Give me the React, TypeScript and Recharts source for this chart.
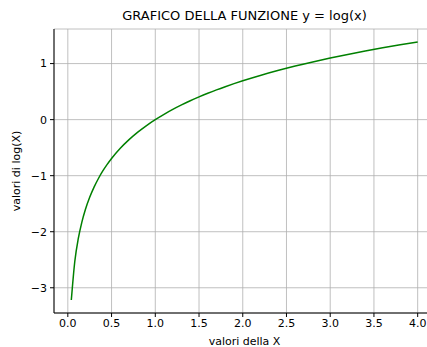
import React from "react";
import { LineChart, Line, XAxis, YAxis, CartesianGrid } from "recharts";

const xValues = [0.04, 0.08, 0.12, 0.16, 0.2, 0.25, 0.3, 0.35, 0.4, 0.45, 0.5, 0.6, 0.7, 0.8, 0.9, 1.0, 1.1, 1.2, 1.3, 1.4, 1.5, 1.6, 1.7, 1.8, 1.9, 2.0, 2.2, 2.4, 2.6, 2.8, 3.0, 3.2, 3.4, 3.6, 3.8, 4.0];
const yValues = [-3.219, -2.526, -2.120, -1.833, -1.609, -1.386, -1.204, -1.050, -0.916, -0.799, -0.693, -0.511, -0.357, -0.223, -0.105, 0, 0.095, 0.182, 0.262, 0.336, 0.405, 0.470, 0.531, 0.588, 0.642, 0.693, 0.788, 0.875, 0.956, 1.030, 1.099, 1.163, 1.224, 1.281, 1.335, 1.386];
const xTicks = [0, 0.5, 1.0, 1.5, 2.0, 2.5, 3.0, 3.5, 4.0];
const yTicks = [-3, -2, -1, 0, 1];
const title = "GRAFICO DELLA FUNZIONE y = log(x)";
const xLabel = "valori della X";
const yLabel = "valori di log(X)";

const data = xValues.map((x, i) => ({ x, y: yValues[i] }));
const font = "DejaVu Sans, sans-serif";

export default function App() {
  return (
    <div style={{ position: "absolute", left: 0, top: 0, width: 427, height: 347, overflow: "hidden", background: "#fff", fontFamily: font }}>
      <div style={{ position: "absolute", left: 54, width: 381, top: 8, textAlign: "center", fontSize: 13, lineHeight: "16px", color: "#000" }}>
        {title}
      </div>
      <LineChart width={440} height={347} data={data} margin={{ top: 29, right: 5, left: 0, bottom: 0 }}>
        <CartesianGrid stroke="#b0b0b0" strokeWidth={0.8} />
        <XAxis
          dataKey="x"
          type="number"
          domain={[-0.158, 4.198]}
          allowDataOverflow
          ticks={xTicks}
          tickFormatter={(v: number) => v.toFixed(1)}
          height={34}
          tickSize={4}
          tickMargin={2}
          stroke="#000"
          tick={{ fill: "#000", fontSize: 11, fontFamily: font }}
          label={{ value: xLabel, position: "insideBottom", offset: 2, fill: "#000", fontSize: 11, fontFamily: font }}
        />
        <XAxis xAxisId="top" orientation="top" dataKey="x" type="number" domain={[-0.158, 4.198]} height={0} tick={false} tickLine={false} stroke="#000" />
        <YAxis
          dataKey="y"
          type="number"
          domain={[-3.45, 1.617]}
          allowDataOverflow
          ticks={yTicks}
          tickFormatter={(v: number) => (v < 0 ? "\u2212" + Math.abs(v) : String(v))}
          width={54}
          tickSize={4}
          tickMargin={3}
          stroke="#000"
          tick={{ fill: "#000", fontSize: 11, fontFamily: font }}
          label={{ value: yLabel, angle: -90, position: "insideLeft", offset: 16, fill: "#000", fontSize: 11, fontFamily: font, style: { textAnchor: "middle" } }}
        />
        <Line type="monotone" dataKey="y" stroke="#008000" strokeWidth={1.5} dot={false} isAnimationActive={false} />
      </LineChart>
    </div>
  );
}
